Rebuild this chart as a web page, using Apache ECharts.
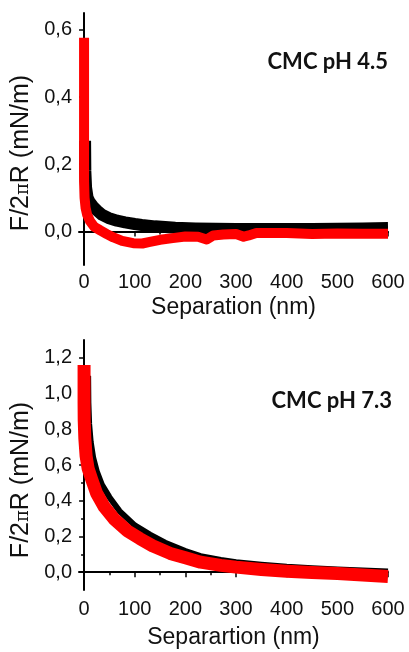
<!DOCTYPE html>
<html>
<head>
<meta charset="utf-8">
<script src="https://cdn.jsdelivr.net/npm/echarts@6/dist/echarts.min.js"></script>
<style>
  html, body { margin: 0; padding: 0; background: #fff; }
  #main { width: 409px; height: 652px; }
</style>
</head>
<body>
<div id="main"></div>
<script>
// separation (nm) / force (mN/m)
var sepTopBlack = [2, 2.5, 4, 7, 11, 18, 25, 35, 48, 65, 81, 100, 114, 140, 180, 220, 260, 300, 350, 400, 450, 500, 550, 600]
var fTopBlack = [0.27, 0.18, 0.13, 0.1, 0.088, 0.074, 0.063, 0.05, 0.04, 0.032, 0.027, 0.022, 0.019, 0.015, 0.011, 0.009, 0.008, 0.007, 0.007, 0.007, 0.007, 0.008, 0.009, 0.01]
var sepTopRed = [0, 0, 1, 3, 6, 12, 20, 32, 45, 58, 75, 97, 115, 130, 150, 175, 200, 225, 242, 255, 275, 300, 315, 325, 340, 400, 450, 500, 550, 600]
var fTopRed = [0.576, 0.15, 0.1, 0.07, 0.05, 0.03, 0.014, 0.003, -0.008, -0.018, -0.028, -0.035, -0.036, -0.031, -0.025, -0.02, -0.015, -0.016, -0.024, -0.012, -0.009, -0.008, -0.016, -0.012, -0.005, -0.005, -0.008, -0.006, -0.007, -0.007]

var sepBotBlack = [8, 8.5, 10, 13, 18, 25, 35, 50, 70, 100, 130, 160, 200, 230, 270, 300, 350, 400, 450, 500, 550, 600]
var fBotBlack = [1.1, 0.95, 0.83, 0.73, 0.64, 0.565, 0.49, 0.42, 0.342, 0.262, 0.21, 0.165, 0.118, 0.09, 0.068, 0.055, 0.042, 0.03, 0.022, 0.015, 0.009, 0.003]
var sepBotRed = [0, 0, 0.3, 1.5, 4, 8, 15, 25, 40, 60, 85, 110, 135, 170, 200, 230, 270, 300, 350, 400, 450, 500, 550, 600]
var fBotRed = [1.16, 0.95, 0.85, 0.75, 0.65, 0.58, 0.52, 0.44, 0.365, 0.295, 0.232, 0.188, 0.148, 0.105, 0.08, 0.056, 0.038, 0.028, 0.015, 0.005, -0.002, -0.008, -0.016, -0.025]

var xMajor = [0, 100, 200, 300, 400, 500, 600]
var xMinor = [50, 150, 250, 350, 450, 550]
var yTopMajor = [0, 0.2, 0.4, 0.6]
var yTopMinor = [0.1, 0.3, 0.5]
var yBotMajor = [0, 0.2, 0.4, 0.6, 0.8, 1.0, 1.2]
var yBotMinor = [0.1, 0.3, 0.5, 0.7, 0.9, 1.1]

var FONT = 'Liberation Sans, Arial, sans-serif'

function pairs(xs, ys) {
    return xs.map(function (x, i) { return [x, ys[i]] })
}

function xAxes(grid, name, gap, margin) {
    return [{
        type: 'value', gridIndex: grid, position: 'bottom', min: -10, max: 600,
        name: name, nameLocation: 'middle', nameGap: gap,
        nameTextStyle: { fontFamily: FONT, fontSize: 23, color: '#111' },
        axisLine: { lineStyle: { color: '#000', width: 2 } },
        axisTick: { customValues: xMajor, length: 5, lineStyle: { color: '#000', width: 1.5 } },
        axisLabel: { customValues: xMajor, margin: margin, fontFamily: FONT, fontSize: 20, color: '#111' },
        splitLine: { show: false }
    }, {
        type: 'value', gridIndex: grid, position: 'bottom', min: -10, max: 600,
        axisLine: { show: false },
        axisTick: { customValues: xMinor, length: 3, lineStyle: { color: '#000', width: 1.5 } },
        axisLabel: { show: false },
        splitLine: { show: false }
    }]
}

function yAxes(grid, min, max, major, minor, gap, shift) {
    return [{
        type: 'value', gridIndex: grid, position: 'left', min: min, max: max,
        name: '{a|F/2}{p|π}{a|R (mN/m)}', nameLocation: 'middle', nameGap: gap,
        nameTextStyle: {
            padding: [0, shift, 0, 0],
            rich: {
                a: { fontFamily: FONT, fontSize: 25, color: '#111' },
                p: { fontFamily: 'DejaVu Serif, serif', fontSize: 18, color: '#111', padding: [6, 0, 0, 0] }
            }
        },
        axisLine: { lineStyle: { color: '#000', width: 2 } },
        axisTick: { customValues: major, length: 5, lineStyle: { color: '#000', width: 1.5 } },
        axisLabel: {
            customValues: major, margin: 7, fontFamily: FONT, fontSize: 20, color: '#111',
            formatter: function (v) { return v.toFixed(1).replace('.', ',') }
        },
        splitLine: { show: false }
    }, {
        type: 'value', gridIndex: grid, position: 'left', min: min, max: max,
        axisLine: { show: false },
        axisTick: { customValues: minor, length: 3, lineStyle: { color: '#000', width: 1.5 } },
        axisLabel: { show: false },
        splitLine: { show: false }
    }]
}

function trace(data, color, width, xi, yi) {
    return {
        type: 'line', data: data, xAxisIndex: xi, yAxisIndex: yi,
        showSymbol: false, smooth: false, animation: false,
        lineStyle: { color: color, width: width, join: 'round' }
    }
}

var myChart = echarts.init(document.getElementById('main'))
var option = {
    backgroundColor: '#fff',
    animation: false,
    grid: [
        { left: 79, top: 13, width: 309, height: 252, outerBoundsMode: 'none' },
        { left: 79, top: 340, width: 309, height: 250, outerBoundsMode: 'none' }
    ],
    xAxis: xAxes(0, 'Separation (nm)', 31, 7).concat(xAxes(1, 'Separartion (nm)', 36, 9)),
    yAxis: yAxes(0, -0.1, 0.65, yTopMajor, yTopMinor, 44, 28).concat(yAxes(1, -0.1, 1.3, yBotMajor, yBotMinor, 44, 30)),
    series: [
        trace(pairs(sepTopBlack, fTopBlack), '#000', 12, 0, 0),
        trace(pairs(sepTopRed, fTopRed), '#ff0000', 10, 0, 0),
        trace(pairs(sepBotBlack, fBotBlack), '#000', 6, 2, 2),
        trace(pairs(sepBotRed, fBotRed), '#ff0000', 13, 2, 2)
    ],
    graphic: [
        { type: 'text', right: 21, top: 51, style: { text: 'CMC pH 4.5', font: 'bold 22px Lato, "Open Sans", sans-serif', fill: '#111' } },
        { type: 'text', right: 17, top: 390, style: { text: 'CMC pH 7.3', font: 'bold 22px Lato, "Open Sans", sans-serif', fill: '#111' } }
    ]
}
myChart.setOption(option)
</script>
</body>
</html>
